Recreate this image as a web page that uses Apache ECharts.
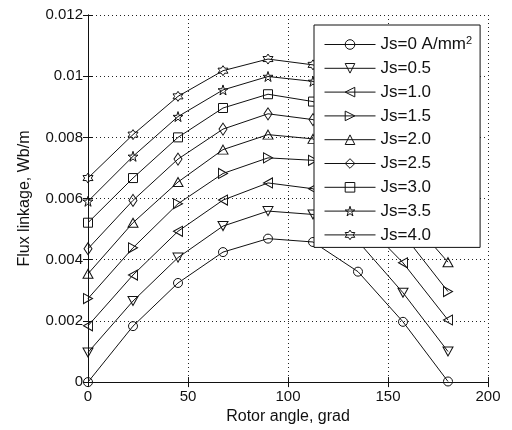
<!DOCTYPE html>
<html>
<head>
<meta charset="utf-8">
<script src="https://cdn.jsdelivr.net/npm/echarts@6/dist/echarts.min.js"></script>
<style>
  html, body { margin: 0; padding: 0; background: #fff; }
  #chart { width: 512px; height: 430px; }
</style>
</head>
<body>
<div id="chart"></div>
<script>
// Rotor angle samples (grad)
const angles = [0, 22.5, 45, 67.5, 90, 112.5, 135, 157.5, 180];

// Flux linkage (Wb/m) for each stator current density
const js00 = [0, 0.00183, 0.00324, 0.00425, 0.00469, 0.00458, 0.00361, 0.00197, 0.00002];
const js05 = [0.00097, 0.00265, 0.00407, 0.0051, 0.00559, 0.00548, 0.0046, 0.00292, 0.001];
const js10 = [0.00184, 0.0035, 0.00493, 0.00595, 0.00651, 0.00632, 0.0054, 0.0039, 0.00203];
const js15 = [0.00273, 0.00439, 0.00583, 0.00682, 0.00733, 0.00725, 0.0063, 0.00484, 0.00296];
const js20 = [0.00354, 0.00521, 0.00654, 0.0076, 0.00809, 0.00795, 0.0071, 0.0056, 0.00392];
const js25 = [0.00436, 0.00594, 0.00729, 0.00827, 0.00877, 0.00858, 0.0078, 0.0064, 0.0048];
const js30 = [0.00521, 0.00667, 0.008, 0.00896, 0.00941, 0.00917, 0.0085, 0.0072, 0.0057];
const js35 = [0.00591, 0.00738, 0.00868, 0.00955, 0.00999, 0.00983, 0.0092, 0.008, 0.0065];
const js40 = [0.00667, 0.00809, 0.00934, 0.01018, 0.01056, 0.01037, 0.0098, 0.0087, 0.0073];

const seriesNames = ['Js=0 A/mm2', 'Js=0.5', 'Js=1.0', 'Js=1.5', 'Js=2.0', 'Js=2.5', 'Js=3.0', 'Js=3.5', 'Js=4.0'];
const seriesValues = [js00, js05, js10, js15, js20, js25, js30, js35, js40];

// Axis tick values
const xTicks = [0, 50, 100, 150, 200];
const yTicks = [0, 0.002, 0.004, 0.006, 0.008, 0.01, 0.012];

// Star-shaped marker outlines
function starPath(points, inner) {
  const pts = [];
  for (let i = 0; i < points * 2; i++) {
    const r = i % 2 === 0 ? 1 : inner;
    const a = -Math.PI / 2 + i * Math.PI / points;
    pts.push((r * Math.cos(a)).toFixed(3) + ' ' + (r * Math.sin(a)).toFixed(3));
  }
  return 'path://M' + pts.join(' L') + ' Z';
}
const pentagram = starPath(5, 0.38);
const hexagram = starPath(6, 0.58);

const markers = [
  { symbol: 'circle', size: 9, rotate: 0 },
  { symbol: 'triangle', size: [10, 9], rotate: 180 },
  { symbol: 'triangle', size: [10, 9], rotate: 90 },
  { symbol: 'triangle', size: [10, 9], rotate: -90 },
  { symbol: 'triangle', size: [10, 9], rotate: 0 },
  { symbol: 'diamond', size: [8, 12], rotate: 0 },
  { symbol: 'rect', size: 9, rotate: 0 },
  { symbol: pentagram, size: 10, rotate: 0 },
  { symbol: hexagram, size: 10, rotate: 0 }
];

const FONT = 'Liberation Sans, Arial, sans-serif';
const INK = '#111';
const hollow = { color: 'rgba(255,255,255,0)', borderColor: INK, borderWidth: 1 };

const series = seriesNames.map((name, i) => ({
  name: name,
  type: 'line',
  data: angles.map((a, k) => [a, seriesValues[i][k]]),
  symbol: markers[i].symbol,
  symbolSize: markers[i].size,
  symbolRotate: markers[i].rotate,
  showAllSymbol: true,
  lineStyle: { color: INK, width: 1 },
  itemStyle: hollow,
  emphasis: { disabled: true },
  z: 3
}));

const chart = echarts.init(document.getElementById('chart'), null, { renderer: 'canvas' });

const dotted = { show: true, lineStyle: { color: '#222', type: [1, 3], width: 1 } };

chart.setOption({
  animation: false,
  backgroundColor: '#fff',
  grid: { left: 88, right: 24, top: 15, bottom: 47 },
  legend: {
    orient: 'vertical',
    left: 314,
    top: 25,
    padding: [10, 8, 3, 10],
    itemWidth: 51,
    itemHeight: 12,
    itemGap: 4.8,
    backgroundColor: '#fff',
    borderColor: INK,
    borderWidth: 1,
    z: 10,
    itemStyle: hollow,
    lineStyle: { color: INK, width: 1 },
    textStyle: {
      fontFamily: FONT, fontSize: 17, color: INK, lineHeight: 19,
      rich: {
        s: { fontFamily: FONT, fontSize: 11, color: INK, lineHeight: 11, verticalAlign: 'top', padding: [0, 0, 8, 0] }
      }
    },
    formatter: function (name) {
      return name === seriesNames[0] ? 'Js=0 A/mm{s|2}' : name;
    },
    data: seriesNames
  },
  xAxis: [{
    type: 'value',
    min: 0, max: 200, interval: 50,
    name: 'Rotor angle, grad',
    nameLocation: 'middle',
    nameGap: 26,
    nameTextStyle: { fontFamily: FONT, fontSize: 16, color: INK },
    axisLine: { show: true, lineStyle: { color: INK, width: 1 } },
    axisTick: { show: true, inside: true, length: 5, lineStyle: { color: INK } },
    axisLabel: {
      fontFamily: FONT, fontSize: 15, color: INK, margin: 7,
      formatter: v => (xTicks.indexOf(v) >= 0 ? String(v) : '')
    },
    splitLine: dotted
  }, {
    type: 'value', position: 'top',
    min: 0, max: 200, interval: 50,
    axisLine: { show: true, lineStyle: { color: INK, width: 1 } },
    axisTick: { show: true, inside: true, length: 5, lineStyle: { color: INK } },
    axisLabel: { show: false },
    splitLine: { show: false }
  }],
  yAxis: [{
    type: 'value',
    min: 0, max: 0.012, interval: 0.002,
    name: 'Flux linkage, Wb/m',
    nameLocation: 'middle',
    nameGap: 55,
    nameTextStyle: { fontFamily: FONT, fontSize: 16, color: INK },
    axisLine: { show: true, lineStyle: { color: INK, width: 1 } },
    axisTick: { show: true, inside: true, length: 5, lineStyle: { color: INK } },
    axisLabel: {
      fontFamily: FONT, fontSize: 15, color: INK, margin: 5,
      formatter: function (v) {
        let best = yTicks[0];
        yTicks.forEach(t => { if (Math.abs(t - v) < Math.abs(best - v)) best = t; });
        return String(best);
      }
    },
    splitLine: dotted
  }, {
    type: 'value', position: 'right',
    min: 0, max: 0.012, interval: 0.002,
    axisLine: { show: true, lineStyle: { color: INK, width: 1 } },
    axisTick: { show: true, inside: true, length: 5, lineStyle: { color: INK } },
    axisLabel: { show: false },
    splitLine: { show: false }
  }],
  series: series
});
</script>
</body>
</html>
